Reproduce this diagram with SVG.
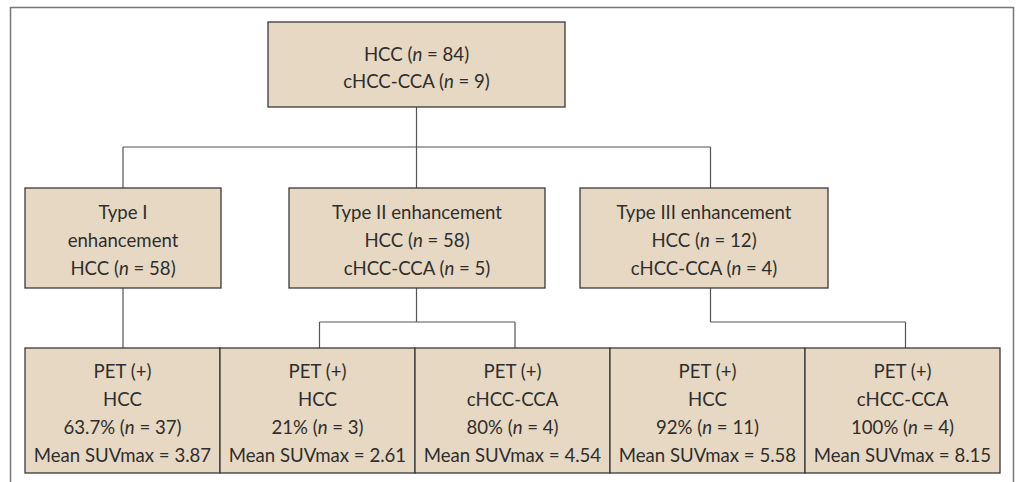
<svg xmlns="http://www.w3.org/2000/svg" width="1022" height="482" viewBox="0 0 1022 482">
<style>
.box{fill:#e6d8c2;stroke:#3a3a3a;stroke-width:1.3}
.t{font-family:"Lato","Liberation Sans",sans-serif;font-size:18.6px;fill:#2e2e2e;text-anchor:middle}
.i{font-style:italic}
.c{stroke:#555;stroke-width:1.2;fill:none}
.frame{stroke:#777;stroke-width:1.5;fill:none}
</style>
<rect width="1022" height="482" fill="#fff"/>
<path class="frame" d="M10.5,482 V7.5 H1013.5 V482"/>
<g id="connectors">
<path class="c" d="M416.5,107 V147 M123,147 H710.5 M123,147 V188 M416.5,147 V188 M710.5,147 V188"/>
<path class="c" d="M123,288 V348 M416.5,288 V322 M319.5,322 H515 M319.5,322 V348 M515,322 V348"/>
<path class="c" d="M710.5,288 V322 M710.5,322 H905.5 M905.5,322 V348"/>
</g>
<g id="root">
<rect class="box" x="268" y="22" width="297" height="85"/>
<text class="t" x="416.5" y="61">HCC (<tspan class="i">n</tspan> = 84)</text>
<text class="t" x="416.5" y="88">cHCC-CCA (<tspan class="i">n</tspan> = 9)</text>
</g>
<g id="type1">
<rect class="box" x="25" y="188" width="196" height="100"/>
<text class="t" x="123" y="219">Type I</text>
<text class="t" x="123" y="247">enhancement</text>
<text class="t" x="123" y="275">HCC (<tspan class="i">n</tspan> = 58)</text>
</g>
<g id="type2">
<rect class="box" x="289" y="188" width="256" height="100"/>
<text class="t" x="417" y="219">Type II enhancement</text>
<text class="t" x="417" y="247">HCC (<tspan class="i">n</tspan> = 58)</text>
<text class="t" x="417" y="275">cHCC-CCA (<tspan class="i">n</tspan> = 5)</text>
</g>
<g id="type3">
<rect class="box" x="580" y="188" width="248" height="100"/>
<text class="t" x="704" y="219">Type III enhancement</text>
<text class="t" x="704" y="247">HCC (<tspan class="i">n</tspan> = 12)</text>
<text class="t" x="704" y="275">cHCC-CCA (<tspan class="i">n</tspan> = 4)</text>
</g>
<g id="pet1">
<rect class="box" x="25" y="348" width="195" height="125"/>
<text class="t" x="122.5" y="378">PET (+)</text>
<text class="t" x="122.5" y="406">HCC</text>
<text class="t" x="122.5" y="434">63.7% (<tspan class="i">n</tspan> = 37)</text>
<text class="t" x="122.5" y="462">Mean SUVmax = 3.87</text>
</g>
<g id="pet2">
<rect class="box" x="220" y="348" width="195" height="125"/>
<text class="t" x="317.5" y="378">PET (+)</text>
<text class="t" x="317.5" y="406">HCC</text>
<text class="t" x="317.5" y="434">21% (<tspan class="i">n</tspan> = 3)</text>
<text class="t" x="317.5" y="462">Mean SUVmax = 2.61</text>
</g>
<g id="pet3">
<rect class="box" x="415" y="348" width="195" height="125"/>
<text class="t" x="512.5" y="378">PET (+)</text>
<text class="t" x="512.5" y="406">cHCC-CCA</text>
<text class="t" x="512.5" y="434">80% (<tspan class="i">n</tspan> = 4)</text>
<text class="t" x="512.5" y="462">Mean SUVmax = 4.54</text>
</g>
<g id="pet4">
<rect class="box" x="610" y="348" width="195" height="125"/>
<text class="t" x="707.5" y="378">PET (+)</text>
<text class="t" x="707.5" y="406">HCC</text>
<text class="t" x="707.5" y="434">92% (<tspan class="i">n</tspan> = 11)</text>
<text class="t" x="707.5" y="462">Mean SUVmax = 5.58</text>
</g>
<g id="pet5">
<rect class="box" x="805" y="348" width="195" height="125"/>
<text class="t" x="902.5" y="378">PET (+)</text>
<text class="t" x="902.5" y="406">cHCC-CCA</text>
<text class="t" x="902.5" y="434">100% (<tspan class="i">n</tspan> = 4)</text>
<text class="t" x="902.5" y="462">Mean SUVmax = 8.15</text>
</g>
</svg>
